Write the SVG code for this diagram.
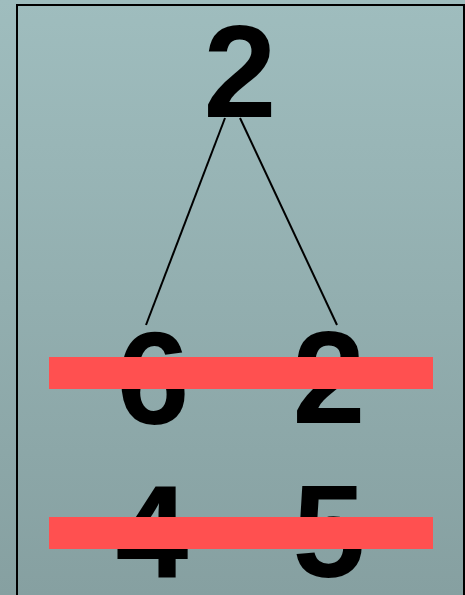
<svg xmlns="http://www.w3.org/2000/svg" width="465" height="595" viewBox="0 0 465 595">
<defs>
<linearGradient id="bg" x1="0" y1="0" x2="0" y2="1">
<stop offset="0" stop-color="#9fbdbe"/>
<stop offset="1" stop-color="#86a0a1"/>
</linearGradient>
<style>
.d{font-family:"Liberation Sans",Arial,sans-serif;font-weight:bold;font-size:131px;fill:#000;text-anchor:middle}
.bar{fill:#ff5050}
.e{stroke:#000;stroke-width:2;fill:none}
</style>
</defs>
<rect x="0" y="0" width="465" height="595" fill="url(#bg)"/>
<path d="M17,600 V5 H464 V600" fill="none" stroke="#000" stroke-width="2"/>
<g id="connectors">
<line class="e" x1="225" y1="118" x2="146" y2="325"/>
<line class="e" x1="240" y1="118" x2="337" y2="325"/>
</g>
<g id="n-root"><text class="d" x="240" y="117">2</text></g>
<g id="n-6"><text class="d" x="153" y="424">6</text></g>
<g id="n-2b"><text class="d" x="329" y="423">2</text></g>
<g id="n-4"><text class="d" x="152" y="578">4</text></g>
<g id="n-5"><text class="d" x="329" y="577">5</text></g>
<rect class="bar" x="49" y="357" width="384" height="32"/>
<rect class="bar" x="49" y="517" width="384" height="32"/>
</svg>
